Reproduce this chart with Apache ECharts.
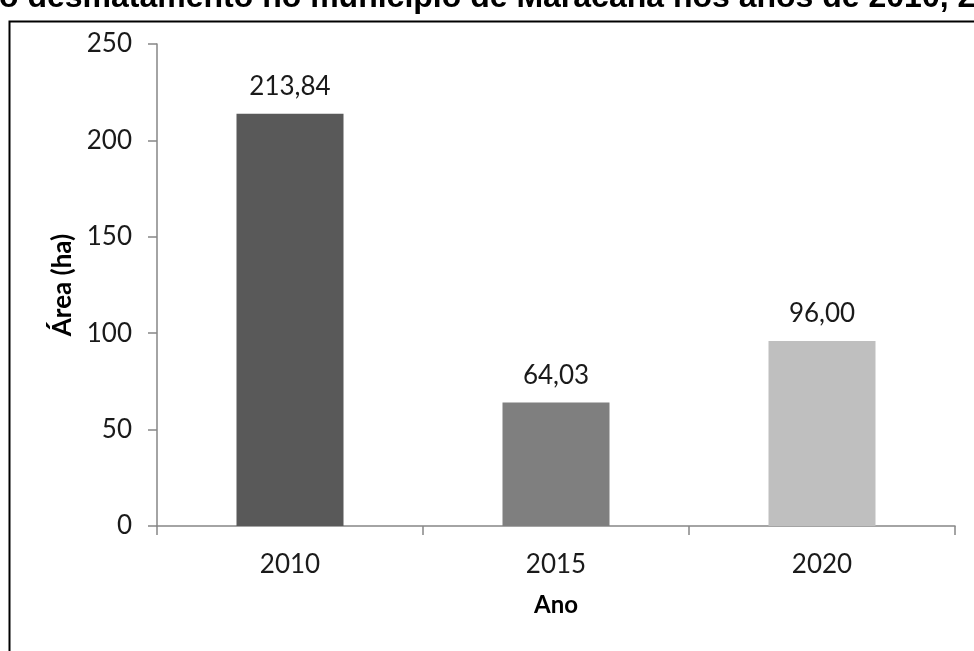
<!DOCTYPE html>
<html>
<head>
<meta charset="utf-8">
<script src="https://cdn.jsdelivr.net/npm/echarts@6/dist/echarts.min.js"></script>
<style>
html,body{margin:0;padding:0;background:#fff;}
#chart{width:974px;height:651px;}
</style>
</head>
<body>
<div id="chart"></div>
<script>
const titleText = 'o desmatamento no município de Maracanã nos anos de 2010, 2';
const categories = ['2010', '2015', '2020'];
const values = [213.84, 64.03, 96.00];
const barColors = ['#595959', '#7f7f7f', '#bfbfbf'];
const yTicks = { min: 0, max: 250, interval: 50 };
const xName = 'Ano';
const yName = 'Área (ha)';

const chart = echarts.init(document.getElementById('chart'), null, { renderer: 'canvas' });
const labelFont = 'Lato, "Open Sans", sans-serif';
const option = {
  backgroundColor: '#ffffff',
  animation: false,
  graphic: [
    {
      type: 'text',
      left: -1,
      top: -18,
      style: {
        text: titleText,
        font: 'bold 32px "Liberation Sans", Arial, sans-serif',
        fill: '#000000'
      }
    },
    {
      type: 'polyline',
      shape: { points: [[9.5, 651], [9.5, 21.5], [974, 21.5]] },
      style: { stroke: '#000000', lineWidth: 2, fill: null }
    }
  ],
  grid: { left: 157, right: 19, top: 44, bottom: 125 },
  xAxis: {
    type: 'category',
    data: categories,
    name: xName,
    nameLocation: 'middle',
    nameGap: 67,
    nameTextStyle: { fontFamily: labelFont, fontWeight: 'bold', fontSize: 24, color: '#000' },
    axisLine: { lineStyle: { color: '#868686', width: 1.5 } },
    axisTick: { show: true, length: 9, alignWithLabel: false, lineStyle: { color: '#868686', width: 1.5 } },
    axisLabel: { fontFamily: labelFont, fontSize: 26, color: '#1a1a1a', margin: 26 }
  },
  yAxis: {
    type: 'value',
    min: yTicks.min,
    max: yTicks.max,
    interval: yTicks.interval,
    name: yName,
    nameLocation: 'middle',
    nameGap: 79,
    nameTextStyle: { fontFamily: labelFont, fontWeight: 'bold', fontSize: 26, color: '#000' },
    axisLine: { show: true, lineStyle: { color: '#868686', width: 1.5 } },
    axisTick: { show: true, length: 9, lineStyle: { color: '#868686', width: 1.5 } },
    splitLine: { show: false },
    axisLabel: { fontFamily: labelFont, fontSize: 26, color: '#1a1a1a', margin: 25 }
  },
  series: [{
    type: 'bar',
    data: values.map((v, i) => ({ value: v, itemStyle: { color: barColors[i] } })),
    barWidth: 107,
    label: {
      show: true,
      position: 'top',
      distance: 14,
      fontFamily: labelFont,
      fontSize: 26,
      color: '#1a1a1a',
      formatter: p => p.value.toFixed(2).replace('.', ',')
    }
  }]
};
chart.setOption(option);
</script>
</body>
</html>
